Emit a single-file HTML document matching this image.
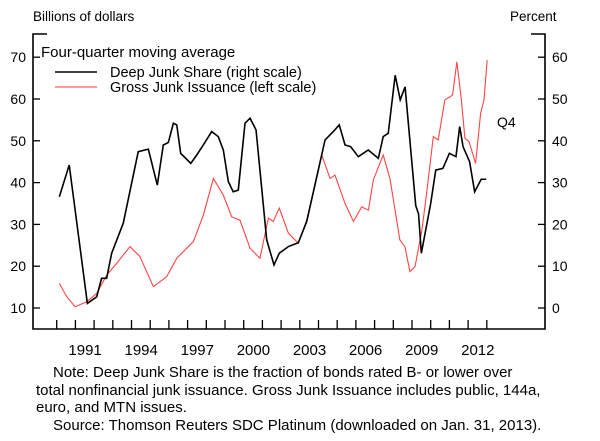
<!DOCTYPE html>
<html><head><meta charset="utf-8"><style>
html,body{margin:0;padding:0;background:#fff;}
svg{display:block;font-family:"Liberation Sans",Arial,sans-serif;}
</style></head><body>
<svg id="chart" width="600" height="441" viewBox="0 0 600 441">
<text x="33" y="21" font-size="13.5">Billions of dollars</text>
<text x="510" y="21" font-size="13.5">Percent</text>
<g stroke="#000" stroke-width="1.6" fill="none">
<path d="M47 34 H33 V329 H545 V34 H531"/>
</g>
<g id="ticks"></g>
<g font-size="14.5">
<text x="41" y="57" font-size="15">Four-quarter moving average</text>
<line x1="55" y1="72" x2="97" y2="72" stroke="#000" stroke-width="1.5"/>
<text x="110" y="77">Deep Junk Share (right scale)</text>
<line x1="55" y1="87" x2="97" y2="87" stroke="#f33" stroke-width="1"/>
<text x="110" y="92">Gross Junk Issuance (left scale)</text>
</g>
<text x="497" y="127" font-size="14">Q4</text>
<g id="series"></g>
<g font-size="15">
<text x="53" y="377">Note: Deep Junk Share is the fraction of bonds rated B- or lower over</text>
<text x="36" y="395">total nonfinancial junk issuance. Gross Junk Issuance includes public, 144a,</text>
<text x="36" y="412">euro, and MTN issues.</text>
<text x="53" y="430">Source: Thomson Reuters SDC Platinum (downloaded on Jan. 31, 2013).</text>
</g>
</svg>
<script>
const leftTicks=[10,20,30,40,50,60,70];
const rightTicks=[0,10,20,30,40,50,60];
const yearTicks=[1989,1990,1991,1992,1993,1994,1995,1996,1997,1998,1999,2000,2001,2002,2003,2004,2005,2006,2007,2008,2009,2010,2011,2012];
const yearLabels=[1991,1994,1997,2000,2003,2006,2009,2012];
const deepYears=[1989.14,1989.67,1990.64,1991.14,1991.4,1991.67,1991.94,1992.56,1993.36,1993.9,1994.38,1994.7,1994.97,1995.24,1995.42,1995.63,1996.17,1996.49,1996.84,1997.29,1997.64,1997.91,1998.18,1998.44,1998.71,1999.07,1999.34,1999.66,2000.23,2000.62,2000.9,2001.39,2001.92,2002.37,2003.35,2003.79,2004.11,2004.42,2004.72,2005.13,2005.66,2006.2,2006.46,2006.73,2007.1,2007.37,2007.63,2008.2,2008.35,2008.5,2009.0,2009.27,2009.65,2010.0,2010.35,2010.55,2010.73,2011.08,2011.35,2011.7,2011.97];
const deepShare=[26.6,34.2,1.1,2.7,7.1,7.1,13.1,20.3,37.4,38,29.4,39,39.6,44.2,43.8,37,34.6,36.6,39,42.2,41,37.8,30.2,27.8,28.2,44.2,45.4,42.6,16.3,10.3,13.1,14.7,15.6,20.7,40.2,42.2,43.8,39,38.6,36.2,37.8,35.8,41,41.8,55.7,49.8,52.9,24.5,22.5,13.1,25,33,33.4,37,36.2,43.4,38.6,35,27.8,30.8,30.8];
const grossYears=[1989.14,1989.54,1989.98,1990.61,1991.14,1991.68,1992.21,1992.92,1993.45,1994.17,1994.88,1995.42,1996.31,1996.84,1997.38,1997.91,1998.36,1998.8,1999.34,1999.87,2000.32,2000.58,2000.9,2001.39,2001.92,2002.37,2003.17,2003.62,2003.88,2004.42,2004.87,2005.31,2005.67,2005.93,2006.46,2006.82,2007.35,2007.62,2007.89,2008.16,2008.52,2008.78,2009.14,2009.4,2009.76,2010.03,2010.17,2010.4,2010.64,2010.83,2011.05,2011.4,2011.67,2011.85,2012.02];
const grossIssuance=[15.9,12.7,10.3,11.5,13.5,17.9,20.7,24.7,22.3,15.1,17.5,21.9,25.9,32.2,41,37,31.8,31,24.3,21.9,31.5,30.7,33.9,27.9,25.5,31,46.6,41,41.8,35,30.7,34.2,33.4,40.6,46.6,41,26.3,24.7,18.7,19.9,28.3,37.4,51,50.2,59.8,60.5,61,68.9,59.8,50.6,49.8,44.6,56.6,59.8,69.3];
const NS='http://www.w3.org/2000/svg';
function xScale(yr){return 56.7+(yr-1989)*18.7;}
function yLeft(v){return 308-(v-10)*4.18;}
function yRight(v){return 308-v*4.18;}
function mk(tag,attrs,parent){const e=document.createElementNS(NS,tag);for(const k in attrs)e.setAttribute(k,attrs[k]);parent.appendChild(e);return e;}
const tg=document.getElementById('ticks');
leftTicks.forEach(v=>{
 const l=mk('line',{x1:33,x2:40,y1:yLeft(v),y2:yLeft(v),stroke:'#000','stroke-width':1.3},tg);
 
 
 const t=mk('text',{x:26,y:yLeft(v)+5,'font-size':14,'text-anchor':'end'},tg);
 t.textContent=v;
 
 
});
rightTicks.forEach(v=>{
 const l=mk('line',{x1:538,x2:545,y1:yRight(v),y2:yRight(v),stroke:'#000','stroke-width':1.3},tg);
 
 
 const t=mk('text',{x:552,y:yRight(v)+5,'font-size':14},tg);
 t.textContent=v;
 
 
});
yearTicks.forEach(y=>{
 const l=mk('line',{x1:xScale(y),x2:xScale(y),y1:320,y2:329,stroke:'#000','stroke-width':1.3},tg);
 
 
});
yearLabels.forEach(y=>{
 const t=mk('text',{x:xScale(y)-9,y:355,'font-size':15,'text-anchor':'middle'},tg);
 t.textContent=y;
 
 
});
const sg=document.getElementById('series');
const gp=mk('polyline',{points:grossYears.map((y,i)=>xScale(y)+','+yLeft(grossIssuance[i])).join(' '),fill:'none',stroke:'#f44','stroke-width':1.1},sg);


const dp=mk('polyline',{points:deepYears.map((y,i)=>xScale(y)+','+yRight(deepShare[i])).join(' '),fill:'none',stroke:'#000','stroke-width':1.6},sg);


</script>
</body></html>
